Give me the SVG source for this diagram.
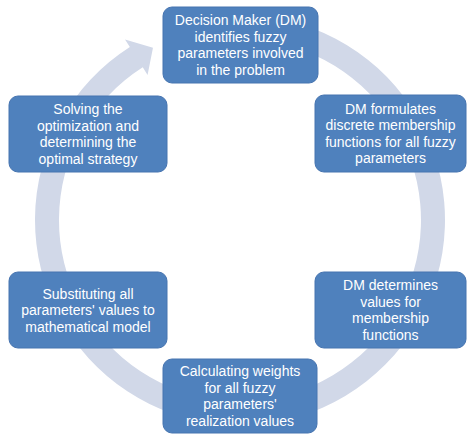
<svg xmlns="http://www.w3.org/2000/svg" width="467" height="436" viewBox="0 0 467 436">
<style>
.ring{fill:#d1d8e8;stroke:none}
.box{fill:#4f81bd;stroke:#4674b0;stroke-width:1}
.t{fill:#ffffff;font-family:"Liberation Sans",Arial,sans-serif;font-size:14px;text-anchor:middle}
</style>
<rect width="467" height="436" fill="#ffffff"/>
<g id="connectors">
<path class="ring" d="M186.94,21.98 A205,205 0 1 1 129.85,47.10 L125.02,39.51 L152.98,47.73 L147.58,74.94 L142.75,67.34 A181,181 0 1 0 193.15,45.17 Z"/>
</g>
<g id="n1">
<rect class="box" x="163" y="7" width="155" height="76" rx="9"/>
<text class="t" x="240.5" y="25.3">Decision Maker (DM)</text>
<text class="t" x="240.5" y="41.8">identifies fuzzy</text>
<text class="t" x="240.5" y="58.3">parameters involved</text>
<text class="t" x="240.5" y="74.8">in the problem</text>
</g>
<g id="n2">
<rect class="box" x="315" y="95" width="151" height="77" rx="9"/>
<text class="t" x="390.5" y="113.8">DM formulates</text>
<text class="t" x="390.5" y="130.3">discrete membership</text>
<text class="t" x="390.5" y="146.8">functions for all fuzzy</text>
<text class="t" x="390.5" y="163.3">parameters</text>
</g>
<g id="n3">
<rect class="box" x="315" y="272" width="151" height="76" rx="9"/>
<text class="t" x="390.5" y="290.3">DM determines</text>
<text class="t" x="390.5" y="306.8">values for</text>
<text class="t" x="390.5" y="323.3">membership</text>
<text class="t" x="390.5" y="339.8">functions</text>
</g>
<g id="n4">
<rect class="box" x="163" y="359" width="154" height="74" rx="9"/>
<text class="t" x="240" y="376.3">Calculating weights</text>
<text class="t" x="240" y="392.8">for all fuzzy</text>
<text class="t" x="240" y="409.3">parameters'</text>
<text class="t" x="240" y="425.8">realization values</text>
</g>
<g id="n5">
<rect class="box" x="9" y="272" width="158" height="76" rx="9"/>
<text class="t" x="88" y="298.5">Substituting all</text>
<text class="t" x="88" y="315">parameters' values to</text>
<text class="t" x="88" y="331.5">mathematical model</text>
</g>
<g id="n6">
<rect class="box" x="9" y="96" width="158" height="76" rx="9"/>
<text class="t" x="88" y="114.3">Solving the</text>
<text class="t" x="88" y="130.8">optimization and</text>
<text class="t" x="88" y="147.3">determining the</text>
<text class="t" x="88" y="163.8">optimal strategy</text>
</g>
</svg>
